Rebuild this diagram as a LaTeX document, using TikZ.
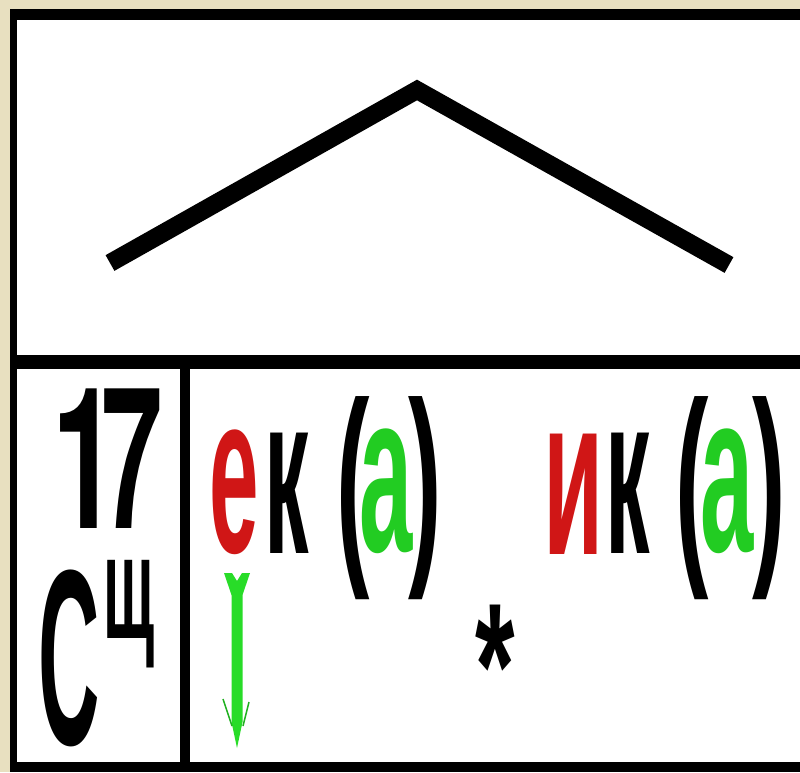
\documentclass[tikz,border=0pt]{standalone}
\usepackage{fontspec}
\setmainfont{Liberation Sans}
\newfontfamily\herosfont{TeX Gyre Heros}
\usepackage{graphicx}
\definecolor{parch}{RGB}{232,224,192}
\definecolor{myred}{RGB}{208,22,22}
\definecolor{mygreen}{RGB}{34,204,34}
\definecolor{arrowgreen}{RGB}{40,220,40}
\newcommand\myglyph[3]{\scalebox{#1}[1]{\fontsize{#2}{#2}\selectfont\bfseries #3}}
\begin{document}
\begin{tikzpicture}[x=1pt,y=-1pt,
  g/.style={inner sep=0pt, outer sep=0pt},
  roof/.style={line width=18pt, line join=miter, line cap=butt}]
\useasboundingbox (0,0) rectangle (800,772);
\fill[parch] (0,0) rectangle (800,772);
% frame
\fill[black] (10,9) rectangle (800,772);
\fill[white] (17,20) rectangle (800,762);
\fill[black] (17,355) rectangle (800,369);
\fill[black] (180,369) rectangle (190,762);
% roof
\coordinate (rl) at (110,263);
\coordinate (rp) at (417,90);
\coordinate (rr) at (729,265);
\draw[roof] (rl) -- (rp) -- (rr);
% left cell
\node[g, anchor=south] (n1) at (85,528) {\myglyph{0.6}{197}{\herosfont 1}};
\node[g, anchor=south] (n7) at (132,528) {\myglyph{0.56}{197}{\herosfont 7}};
\node[g, anchor=south] (nS) at (69.5,747) {\myglyph{0.34}{250}{С}};
\node[g, anchor=north] (nsh) at (129,560) {\myglyph{0.41}{148}{щ}};
% right cell, first group
\node[g, anchor=south] (e1) at (234,555) {\myglyph{0.39}{228}{\color{myred}е}};
\node[g, anchor=south] (k1) at (286.5,553) {\myglyph{0.39}{228}{к}};
\node[g, anchor=south] (lp1) at (353.5,600) {\myglyph{0.46}{218}{(}};
\node[g, anchor=south] (a1) at (386.5,554) {\myglyph{0.42}{228}{\color{mygreen}а}};
\node[g, anchor=south] (rp1) at (425.5,600) {\myglyph{0.46}{218}{)}};
% second group
\node[g, anchor=south] (i2) at (574,554) {\myglyph{0.43}{228}{\color{myred}и}};
\node[g, anchor=south] (k2) at (628,553) {\myglyph{0.39}{228}{к}};
\node[g, anchor=south] (lp2) at (692.5,600) {\myglyph{0.46}{218}{(}};
\node[g, anchor=south] (a2) at (727.5,554) {\myglyph{0.42}{228}{\color{mygreen}а}};
\node[g, anchor=south] (rp2) at (769.5,600) {\myglyph{0.46}{218}{)}};
% asterisk
\node[g, anchor=north] (ast) at (495.5,605) {\myglyph{0.57}{178}{*}};
% green arrow
\fill[arrowgreen] (224,573) -- (232,573) -- (237,581) -- (242,573) -- (250,573)
  -- (242.5,595) -- (242.5,722) -- (237,748) -- (231.5,722) -- (231.5,595) -- cycle;
\draw[arrowgreen!80!black, line width=1.5pt] (223,699) -- (232,726);
\draw[arrowgreen!80!black, line width=1.5pt] (249,702) -- (243,726);
\end{tikzpicture}
\end{document}
